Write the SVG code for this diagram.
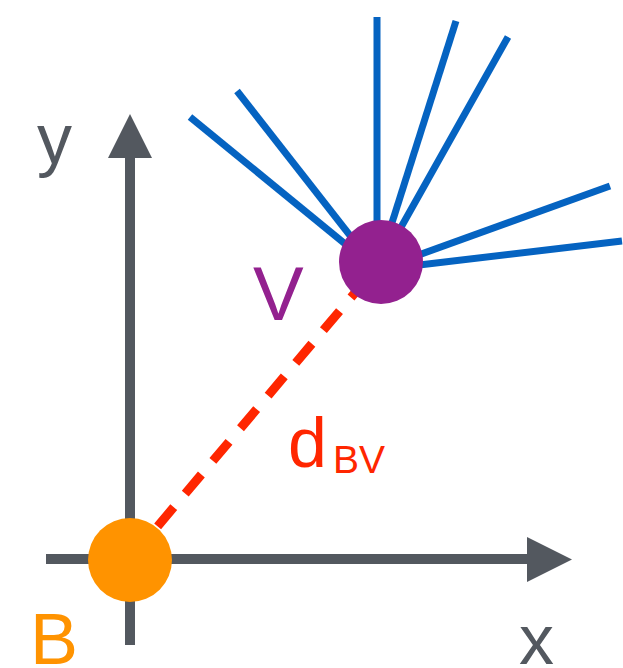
<svg xmlns="http://www.w3.org/2000/svg" width="623" height="668" viewBox="0 0 623 668">
<style>
.axis{stroke:#53585f;stroke-width:10;fill:none}
.head{fill:#53585f}
.ray{stroke:#0563c1;stroke-width:7;fill:none}
.dist{stroke:#ff2600;stroke-width:9;stroke-dasharray:25 17.8;fill:none}
text{font-family:'Liberation Sans',sans-serif}
</style>
<rect width="623" height="668" fill="#ffffff"/>
<g id="axes">
<line class="axis" x1="130" y1="645" x2="130" y2="156"/>
<polygon class="head" points="130,114 108,158 152,158"/>
<line class="axis" x1="46" y1="559" x2="529" y2="559"/>
<polygon class="head" points="572,559.5 527,537 527,582"/>
<text x="37" y="163" font-family="Liberation Sans" font-size="70" fill="#53585f">y</text>
<text x="519" y="664" font-family="Liberation Sans" font-size="70" fill="#53585f">x</text>
</g>
<g id="connectors">
<line class="dist" x1="130" y1="559" x2="381" y2="262"/>
<g id="rays">
<line class="ray" x1="377" y1="270" x2="190" y2="117"/>
<line class="ray" x1="377" y1="270" x2="237" y2="91"/>
<line class="ray" x1="377" y1="270" x2="377" y2="17"/>
<line class="ray" x1="377" y1="270" x2="456" y2="21"/>
<line class="ray" x1="377" y1="270" x2="508" y2="37"/>
<line class="ray" x1="377" y1="270" x2="610" y2="186"/>
<line class="ray" x1="377" y1="270" x2="622" y2="241"/>
</g>
<text x="288" y="467" font-family="Liberation Sans" font-size="70" fill="#ff2600">d<tspan x="333" y="473" font-size="39">BV</tspan></text>
</g>
<g id="node-B">
<circle cx="130" cy="560" r="42" fill="#ff9300"/>
<text x="30" y="664" font-family="Liberation Sans" font-size="72" fill="#ff9300">B</text>
</g>
<g id="node-V">
<circle cx="381" cy="262" r="42" fill="#93218f"/>
<text x="253" y="320" font-family="Liberation Sans" font-size="76" fill="#93218f">V</text>
</g>
</svg>
